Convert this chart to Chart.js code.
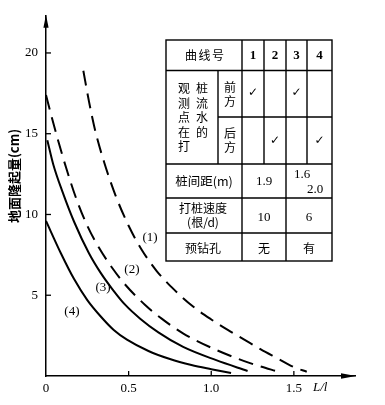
<!DOCTYPE html>
<html><head><meta charset="utf-8">
<script src="https://cdn.jsdelivr.net/npm/chart.js@4/dist/chart.umd.min.js"></script>
<style>html,body{margin:0;padding:0;background:#fff}#wrap{width:385px;height:405px;position:relative}</style>
</head><body><div id="wrap"><canvas id="c" width="385" height="405"></canvas></div>
<script>
// ---- data ----
const xTicks = [0, 0.5, 1.0, 1.5];
const yTicks = [5, 10, 15, 20];
const curve1X = [0.226, 0.26, 0.3, 0.35, 0.42, 0.5, 0.58, 0.67, 0.78, 0.89, 1.0, 1.1, 1.2, 1.3, 1.4, 1.5, 1.578];
const curve1Y = [18.9, 17.0, 15.1, 13.3, 11.2, 9.3, 7.8, 6.5, 5.3, 4.3, 3.5, 2.85, 2.25, 1.65, 1.1, 0.55, 0.26];
const curve2X = [0, 0.03, 0.07, 0.12, 0.186, 0.25, 0.32, 0.4, 0.48, 0.6, 0.7, 0.829, 1.033, 1.235, 1.427];
const curve2Y = [17.4, 16.2, 14.7, 12.95, 10.9, 9.3, 7.95, 6.7, 5.65, 4.4, 3.55, 2.64, 1.6, 0.8, 0.2];
const curve3X = [0.008, 0.044, 0.1, 0.17, 0.26, 0.33, 0.4, 0.48, 0.57, 0.68, 0.83, 1.03, 1.22];
const curve3Y = [14.6, 13.1, 11.4, 9.55, 7.6, 6.4, 5.4, 4.4, 3.55, 2.7, 1.8, 0.98, 0.31];
const curve4X = [0, 0.09, 0.17, 0.25, 0.33, 0.41, 0.49, 0.62, 0.75, 0.88, 1.0, 1.12];
const curve4Y = [9.6, 7.6, 6.0, 4.7, 3.7, 2.85, 2.25, 1.55, 1.05, 0.68, 0.42, 0.18];
const curveLabels = ['(1)', '(2)', '(3)', '(4)'];
const curveLabelX = [0.63, 0.52, 0.345, 0.157];
const curveLabelY = [8.6, 6.6, 5.45, 4.0];
const yTitle = '地面隆起量(cm)';
const xTitle = 'L/l';
// table contents
const tableHeader = '曲线号';
const curveNos = ['1', '2', '3', '4'];
const obsLabelCol1 = ['观', '测', '点', '在', '打'];
const obsLabelCol2 = ['桩', '流', '水', '的'];
const frontLabel = ['前', '方'];
const backLabel = ['后', '方'];
const frontChecks = [true, false, true, false];
const backChecks = [false, true, false, true];
const spacingLabel = '桩间距(m)';
const spacingValues = ['1.9', '1.6', '2.0'];
const rateLabel = ['打桩速度', '(根/d)'];
const rateValues = ['10', '6'];
const drillLabel = '预钻孔';
const drillValues = ['无', '有'];

const pts = (xs, ys) => xs.map((x, i) => ({x: x, y: ys[i]}));
const lineBase = {borderColor: '#000', borderWidth: 2, pointRadius: 0, showLine: true, fill: false, cubicInterpolationMode: 'monotone'};

const CJK = '"Noto Sans CJK SC", sans-serif';
const SERIF = '"Liberation Serif", "DejaVu Serif", serif';

const decor = {
  id: 'decor',
  afterDraw(chart) {
    const ctx = chart.ctx, xs = chart.scales.x, ys = chart.scales.y, ca = chart.chartArea;
    ctx.save();
    ctx.fillStyle = '#000'; ctx.strokeStyle = '#000';
    // arrows
    ctx.beginPath();
    ctx.moveTo(ca.left, ca.top - 1); ctx.lineTo(ca.left - 2.6, ca.top + 12); ctx.lineTo(ca.left + 2.6, ca.top + 12); ctx.closePath(); ctx.fill();
    ctx.beginPath();
    ctx.moveTo(ca.right + 1, ca.bottom); ctx.lineTo(ca.right - 14, ca.bottom - 2.8); ctx.lineTo(ca.right - 14, ca.bottom + 2.8); ctx.closePath(); ctx.fill();
    // inward tick marks
    ctx.lineWidth = 1.3;
    yTicks.forEach(v => { const p = ys.getPixelForValue(v); ctx.beginPath(); ctx.moveTo(ca.left, p); ctx.lineTo(ca.left + 5, p); ctx.stroke(); });
    xTicks.forEach(v => { if (v === 0) return; const p = xs.getPixelForValue(v); ctx.beginPath(); ctx.moveTo(p, ca.bottom); ctx.lineTo(p, ca.bottom - 5); ctx.stroke(); });
    // curve labels
    ctx.font = '13px ' + SERIF; ctx.textAlign = 'center'; ctx.textBaseline = 'middle';
    curveLabels.forEach((t, i) => ctx.fillText(t, xs.getPixelForValue(curveLabelX[i]), ys.getPixelForValue(curveLabelY[i])));
    // axis titles
    ctx.save();
    ctx.translate(14, 176); ctx.rotate(-Math.PI / 2);
    ctx.font = 'bold 13px ' + CJK; ctx.fillText(yTitle, 0, 0);
    ctx.restore();
    ctx.font = 'italic 13px ' + SERIF; ctx.textAlign = 'left';
    ctx.fillText(xTitle, 313, 388);

    // ---- table ----
    const L = 166, A = 218, B = 242, c1 = 264, c2 = 286, c3 = 307, R = 332;
    const T = 40, r1 = 70.5, r2 = 117, r3 = 164, r4 = 198, r5 = 233, Bo = 261;
    ctx.lineWidth = 1.4;
    const seg = (x1, y1, x2, y2) => { ctx.beginPath(); ctx.moveTo(x1, y1); ctx.lineTo(x2, y2); ctx.stroke(); };
    ctx.strokeRect(L, T, R - L, Bo - T);
    seg(L, r1, R, r1); seg(A, r2, R, r2); seg(L, r3, R, r3); seg(L, r4, R, r4); seg(L, r5, R, r5);
    seg(B, T, B, Bo); seg(A, r1, A, r3); seg(c1, T, c1, r3); seg(c2, T, c2, Bo); seg(c3, T, c3, r3);
    ctx.textAlign = 'center'; ctx.textBaseline = 'middle';
    ctx.font = '12px ' + CJK;
    Array.from(tableHeader).forEach((ch, i) => ctx.fillText(ch, 191 + i * 13.5, 55));
    ctx.font = 'bold 13px ' + SERIF;
    const colC = [(B + c1) / 2, (c1 + c2) / 2, (c2 + c3) / 2, (c3 + R) / 2];
    curveNos.forEach((t, i) => ctx.fillText(t, colC[i], 55.5));
    ctx.font = '12px ' + CJK;
    const vy = [88, 103, 117.5, 132, 146.5];
    obsLabelCol1.forEach((ch, i) => ctx.fillText(ch, 184, vy[i]));
    obsLabelCol2.forEach((ch, i) => ctx.fillText(ch, 202, vy[i]));
    frontLabel.forEach((ch, i) => ctx.fillText(ch, 230, 87 + i * 14));
    backLabel.forEach((ch, i) => ctx.fillText(ch, 230, 133 + i * 14));
    ctx.font = '12px "DejaVu Sans", sans-serif';
    frontChecks.forEach((c, i) => { if (c) ctx.fillText('✓', colC[i], 93); });
    backChecks.forEach((c, i) => { if (c) ctx.fillText('✓', colC[i], 141); });
    ctx.font = '12.5px ' + CJK;
    ctx.fillText(spacingLabel, 204, 181.5);
    ctx.font = '13px ' + SERIF;
    ctx.fillText(spacingValues[0], (B + c2) / 2, 182);
    ctx.fillText(spacingValues[1], 302, 175);
    ctx.fillText(spacingValues[2], 315, 190);
    ctx.font = '12px ' + CJK;
    ctx.fillText(rateLabel[0], 203, 208.5);
    ctx.fillText(rateLabel[1], 203, 222);
    ctx.font = '13px ' + SERIF;
    ctx.fillText(rateValues[0], (B + c2) / 2, 218);
    ctx.fillText(rateValues[1], (c2 + R) / 2, 218);
    ctx.font = '12px ' + CJK;
    ctx.fillText(drillLabel, 203, 248);
    ctx.fillText(drillValues[0], (B + c2) / 2, 248);
    ctx.fillText(drillValues[1], (c2 + R) / 2, 248);
    ctx.restore();
  }
};

new Chart(document.getElementById('c'), {
  type: 'scatter',
  data: {
    datasets: [
      Object.assign({label: curveLabels[0], data: pts(curve1X, curve1Y), borderDash: [15, 8]}, lineBase),
      Object.assign({label: curveLabels[1], data: pts(curve2X, curve2Y), borderDash: [15, 8]}, lineBase),
      Object.assign({label: curveLabels[2], data: pts(curve3X, curve3Y)}, lineBase),
      Object.assign({label: curveLabels[3], data: pts(curve4X, curve4Y)}, lineBase)
    ]
  },
  options: {
    responsive: false, animation: false, devicePixelRatio: 1,
    layout: {padding: {top: 13, right: 30, left: 0, bottom: 0}},
    plugins: {legend: {display: false}, tooltip: {enabled: false}},
    scales: {
      x: {
        type: 'linear', min: 0, max: 1.87,
        afterBuildTicks: s => { s.ticks = xTicks.map(v => ({value: v})); },
        afterFit: s => { s.height = 29; },
        grid: {display: false, drawTicks: false},
        border: {display: true, color: '#000', width: 1.5},
        ticks: {color: '#000', padding: 5, font: {family: 'Liberation Serif', size: 13}, callback: v => v === 0 ? '0' : Number(v).toFixed(1)}
      },
      y: {
        type: 'linear', min: 0, max: 22.3,
        afterBuildTicks: s => { s.ticks = yTicks.map(v => ({value: v})); },
        afterFit: s => { s.width = 46; },
        grid: {display: false, drawTicks: false},
        border: {display: true, color: '#000', width: 1.5},
        ticks: {color: '#000', padding: 8, font: {family: 'Liberation Serif', size: 13}, callback: v => String(v)}
      }
    }
  },
  plugins: [decor]
});
</script>
</body></html>
